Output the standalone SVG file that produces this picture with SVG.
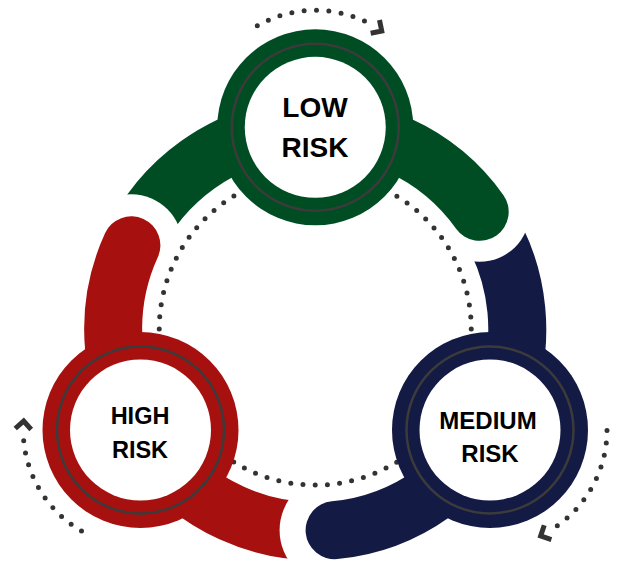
<svg xmlns="http://www.w3.org/2000/svg" width="621" height="562" viewBox="0 0 621 562">
  <style>
    .band{fill:none;stroke-width:58;stroke-linecap:round}
    .ring{fill:none;stroke:#3b3b3b;stroke-width:2.5}
    .inner{fill:#ffffff}
    .dots{fill:none;stroke:#333333;stroke-width:5;stroke-linecap:round;stroke-dasharray:0 12.37}
    .chev{fill:none;stroke:#333333;stroke-width:5;stroke-linejoin:miter;stroke-linecap:butt}
    .label{font-family:"Liberation Sans",Arial,sans-serif;font-weight:bold;text-anchor:middle;fill:#000000}
  </style>
  <defs>
    <mask id="m-green" maskUnits="userSpaceOnUse" x="0" y="0" width="621" height="562">
      <rect x="0" y="0" width="621" height="562" fill="#fff"/>
      <circle cx="131.4" cy="245.3" r="51" fill="#000"/>
    </mask>
    <mask id="m-blue" maskUnits="userSpaceOnUse" x="0" y="0" width="621" height="562">
      <rect x="0" y="0" width="621" height="562" fill="#fff"/>
      <circle cx="479.7" cy="211.8" r="50" fill="#000"/>
    </mask>
    <mask id="m-red" maskUnits="userSpaceOnUse" x="0" y="0" width="621" height="562">
      <rect x="0" y="0" width="621" height="562" fill="#fff"/>
      <circle cx="334.6" cy="530.2" r="55" fill="#000"/>
    </mask>
    <path id="chevron" class="chev" d="M-6.5,-8 L1.5,0 L-6.5,8"/>
  </defs>

  <g id="connectors">
    <path class="band" stroke="#014d23" mask="url(#m-green)" d="M131.4,245.3 A202,202 0 0 1 479.7,211.8"/>
    <path class="band" stroke="#131a44" mask="url(#m-blue)" d="M479.7,211.8 A202,202 0 0 1 334.6,530.2"/>
    <path class="band" stroke="#a6110f" mask="url(#m-red)" d="M334.6,530.2 A202,202 0 0 1 131.4,245.3"/>
    <circle class="dots" cx="315.25" cy="329.1" r="156" style="stroke-dasharray:0 12.25"/>
    <path class="dots" d="M257.3,25.7 A117,117 0 0 1 366.2,21.9"/>
    <use href="#chevron" transform="translate(380.5,30.2) rotate(33.5)"/>
    <path class="dots" d="M81.5,531 A117,117 0 0 1 23.7,440.6"/>
    <use href="#chevron" transform="translate(23.6,422.5) rotate(273.5)"/>
    <path class="dots" d="M607,430.6 A117,117 0 0 1 555.8,526.7"/>
    <use href="#chevron" transform="translate(542,535.3) rotate(153.5)"/>
  </g>

  <g id="node-low">
    <circle cx="315.25" cy="127.3" r="98" fill="#014d23"/>
    <circle class="ring" cx="315.25" cy="127.3" r="83.5"/>
    <circle class="inner" cx="315.25" cy="127.3" r="70.5"/>
    <text class="label" x="315" y="117" font-size="28">LOW</text>
    <text class="label" x="315" y="157" font-size="28">RISK</text>
  </g>

  <g id="node-high">
    <circle cx="140.5" cy="430" r="98" fill="#a6110f"/>
    <circle class="ring" cx="140.5" cy="430" r="83.5"/>
    <circle class="inner" cx="140.5" cy="430" r="70.5"/>
    <text class="label" x="140" y="424" font-size="23.5">HIGH</text>
    <text class="label" x="140" y="458" font-size="23.5">RISK</text>
  </g>

  <g id="node-medium">
    <circle cx="490" cy="430" r="98" fill="#131a44"/>
    <circle class="ring" cx="490" cy="430" r="83.5"/>
    <circle class="inner" cx="490" cy="430" r="70.5"/>
    <text class="label" x="488" y="429" font-size="24">MEDIUM</text>
    <text class="label" x="490" y="462" font-size="24">RISK</text>
  </g>
</svg>
